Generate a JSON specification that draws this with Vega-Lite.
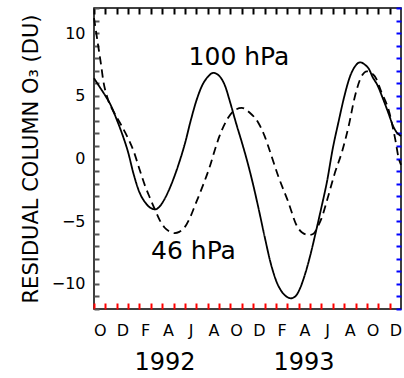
{
  "$schema": "https://vega.github.io/schema/vega-lite/v6.json",
  "width": 307,
  "height": 301,
  "autosize": {"type": "none"},
  "padding": {"left": 94, "top": 8, "right": 3, "bottom": 69},
  "background": "white",
  "config": {
    "view": {"stroke": "black", "strokeWidth": 1.5},
    "axis": {"domain": false, "grid": false, "labelFont": "DejaVu Sans", "titleFont": "DejaVu Sans", "labelColor": "black", "titleColor": "black"}
  },
  "datasets": {
    "curves": [
      {"series": "100 hPa", "t": -0.5, "v": 6.4},
      {"series": "100 hPa", "t": 0, "v": 5.7},
      {"series": "100 hPa", "t": 0.5, "v": 5.0},
      {"series": "100 hPa", "t": 1, "v": 4.2},
      {"series": "100 hPa", "t": 1.5, "v": 3.1},
      {"series": "100 hPa", "t": 2, "v": 1.9},
      {"series": "100 hPa", "t": 2.5, "v": 0.5},
      {"series": "100 hPa", "t": 3, "v": -1.3},
      {"series": "100 hPa", "t": 3.5, "v": -2.7},
      {"series": "100 hPa", "t": 4, "v": -3.5},
      {"series": "100 hPa", "t": 4.5, "v": -3.95},
      {"series": "100 hPa", "t": 4.9, "v": -4.05},
      {"series": "100 hPa", "t": 5.3, "v": -3.8},
      {"series": "100 hPa", "t": 5.6, "v": -3.4},
      {"series": "100 hPa", "t": 6, "v": -2.7},
      {"series": "100 hPa", "t": 6.5, "v": -1.6},
      {"series": "100 hPa", "t": 7, "v": -0.3},
      {"series": "100 hPa", "t": 7.5, "v": 1.2},
      {"series": "100 hPa", "t": 8, "v": 3.0},
      {"series": "100 hPa", "t": 8.5, "v": 4.6},
      {"series": "100 hPa", "t": 9, "v": 5.8},
      {"series": "100 hPa", "t": 9.5, "v": 6.5},
      {"series": "100 hPa", "t": 10, "v": 6.83},
      {"series": "100 hPa", "t": 10.5, "v": 6.6},
      {"series": "100 hPa", "t": 11, "v": 5.85},
      {"series": "100 hPa", "t": 11.5, "v": 4.4},
      {"series": "100 hPa", "t": 12, "v": 2.8},
      {"series": "100 hPa", "t": 12.5, "v": 1.3},
      {"series": "100 hPa", "t": 13, "v": -0.3},
      {"series": "100 hPa", "t": 13.5, "v": -2.1},
      {"series": "100 hPa", "t": 14, "v": -4.1},
      {"series": "100 hPa", "t": 14.5, "v": -6.2},
      {"series": "100 hPa", "t": 15, "v": -8.2},
      {"series": "100 hPa", "t": 15.5, "v": -9.7},
      {"series": "100 hPa", "t": 16, "v": -10.6},
      {"series": "100 hPa", "t": 16.5, "v": -11.05},
      {"series": "100 hPa", "t": 16.8, "v": -11.15},
      {"series": "100 hPa", "t": 17.2, "v": -11.0},
      {"series": "100 hPa", "t": 17.6, "v": -10.4},
      {"series": "100 hPa", "t": 18, "v": -9.4},
      {"series": "100 hPa", "t": 18.5, "v": -7.8},
      {"series": "100 hPa", "t": 19, "v": -5.9},
      {"series": "100 hPa", "t": 19.5, "v": -3.9},
      {"series": "100 hPa", "t": 20, "v": -1.8},
      {"series": "100 hPa", "t": 20.5, "v": 0.8},
      {"series": "100 hPa", "t": 21, "v": 2.9},
      {"series": "100 hPa", "t": 21.5, "v": 4.9},
      {"series": "100 hPa", "t": 22, "v": 6.5},
      {"series": "100 hPa", "t": 22.5, "v": 7.4},
      {"series": "100 hPa", "t": 22.9, "v": 7.67},
      {"series": "100 hPa", "t": 23.3, "v": 7.5},
      {"series": "100 hPa", "t": 23.7, "v": 7.1},
      {"series": "100 hPa", "t": 24, "v": 6.5},
      {"series": "100 hPa", "t": 24.4, "v": 5.9},
      {"series": "100 hPa", "t": 24.9, "v": 4.8},
      {"series": "100 hPa", "t": 25.4, "v": 3.6},
      {"series": "100 hPa", "t": 25.8, "v": 2.6},
      {"series": "100 hPa", "t": 26.2, "v": 2.0},
      {"series": "100 hPa", "t": 26.5, "v": 1.8},
      {"series": "46 hPa", "t": -0.5, "v": 11.2},
      {"series": "46 hPa", "t": -0.15, "v": 9.1},
      {"series": "46 hPa", "t": 0.14, "v": 7.35},
      {"series": "46 hPa", "t": 0.3, "v": 6.3},
      {"series": "46 hPa", "t": 0.73, "v": 4.7},
      {"series": "46 hPa", "t": 1.26, "v": 3.67},
      {"series": "46 hPa", "t": 1.9, "v": 2.65},
      {"series": "46 hPa", "t": 2.5, "v": 1.6},
      {"series": "46 hPa", "t": 3, "v": 0.55},
      {"series": "46 hPa", "t": 3.5, "v": -0.85},
      {"series": "46 hPa", "t": 4, "v": -2.2},
      {"series": "46 hPa", "t": 4.4, "v": -3.1},
      {"series": "46 hPa", "t": 4.85, "v": -4.05},
      {"series": "46 hPa", "t": 5.3, "v": -4.95},
      {"series": "46 hPa", "t": 5.7, "v": -5.5},
      {"series": "46 hPa", "t": 6.1, "v": -5.8},
      {"series": "46 hPa", "t": 6.6, "v": -5.95},
      {"series": "46 hPa", "t": 7.0, "v": -5.85},
      {"series": "46 hPa", "t": 7.5, "v": -5.45},
      {"series": "46 hPa", "t": 8.0, "v": -4.6},
      {"series": "46 hPa", "t": 8.4, "v": -3.7},
      {"series": "46 hPa", "t": 8.8, "v": -2.8},
      {"series": "46 hPa", "t": 9.1, "v": -2.1},
      {"series": "46 hPa", "t": 9.7, "v": -0.6},
      {"series": "46 hPa", "t": 10.1, "v": 0.6},
      {"series": "46 hPa", "t": 10.5, "v": 1.7},
      {"series": "46 hPa", "t": 11.2, "v": 3.1},
      {"series": "46 hPa", "t": 11.75, "v": 3.77},
      {"series": "46 hPa", "t": 12.5, "v": 4.04},
      {"series": "46 hPa", "t": 13.2, "v": 3.65},
      {"series": "46 hPa", "t": 13.95, "v": 2.85},
      {"series": "46 hPa", "t": 14.5, "v": 1.8},
      {"series": "46 hPa", "t": 15, "v": 0.5},
      {"series": "46 hPa", "t": 15.7, "v": -1.4},
      {"series": "46 hPa", "t": 16.6, "v": -3.5},
      {"series": "46 hPa", "t": 17.3, "v": -5.3},
      {"series": "46 hPa", "t": 17.8, "v": -5.9},
      {"series": "46 hPa", "t": 18.4, "v": -6.1},
      {"series": "46 hPa", "t": 18.8, "v": -6.0},
      {"series": "46 hPa", "t": 19.2, "v": -5.4},
      {"series": "46 hPa", "t": 19.5, "v": -4.8},
      {"series": "46 hPa", "t": 20.1, "v": -3.0},
      {"series": "46 hPa", "t": 20.7, "v": -1.1},
      {"series": "46 hPa", "t": 21.3, "v": 0.5},
      {"series": "46 hPa", "t": 21.9, "v": 2.6},
      {"series": "46 hPa", "t": 22.45, "v": 4.97},
      {"series": "46 hPa", "t": 23.0, "v": 6.5},
      {"series": "46 hPa", "t": 23.5, "v": 6.95},
      {"series": "46 hPa", "t": 24.2, "v": 6.55},
      {"series": "46 hPa", "t": 24.8, "v": 5.24},
      {"series": "46 hPa", "t": 25.4, "v": 3.9},
      {"series": "46 hPa", "t": 26.0, "v": 1.5},
      {"series": "46 hPa", "t": 26.3, "v": 0.0},
      {"series": "46 hPa", "t": 26.5, "v": -0.5}
    ],
    "labels": [
      {"label": "100 hPa", "t": 12.25, "v": 8.12},
      {"label": "46 hPa", "t": 8.25, "v": -7.41}
    ],
    "years": [
      {"label": "1992", "t": 5.74, "v": -16.27},
      {"label": "1993", "t": 17.97, "v": -16.27}
    ]
  },
  "layer": [
    {
      "data": {"name": "curves"},
      "mark": {"type": "line", "interpolate": "monotone", "color": "black", "strokeWidth": 1.8},
      "encoding": {
        "x": {"field": "t", "type": "quantitative",
          "scale": {"domain": [-0.5, 26.5], "nice": false, "zero": false},
          "axis": {"orient": "bottom", "values": [0, 1, 2, 3, 4, 5, 6, 7, 8, 9, 10, 11, 12, 13, 14, 15, 16, 17, 18, 19, 20, 21, 22, 23, 24, 25, 26],
            "labelExpr": "datum.value % 2 == 0 ? ['O','D','F','A','J','A'][(datum.value / 2) % 6] : ''",
            "ticks": true, "tickSize": 6, "offset": -6, "tickColor": "red", "tickWidth": 2,
            "tickOffset": -5.685, "labelOffset": 5.685,
            "labelPadding": 13, "labelFontSize": 16, "labelOverlap": false, "labelFlush": false, "title": null}},
        "y": {"field": "v", "type": "quantitative",
          "scale": {"domain": [-12, 12], "nice": false, "zero": false},
          "axis": {"orient": "left", "values": [-12, -11, -10, -9, -8, -7, -6, -5, -4, -3, -2, -1, 0, 1, 2, 3, 4, 5, 6, 7, 8, 9, 10, 11, 12],
            "labelExpr": "datum.value % 5 == 0 ? datum.label : ''",
            "ticks": true, "tickSize": 5, "offset": -5, "tickColor": "#555555", "tickWidth": 2,
            "labelPadding": 9, "labelFontSize": 16, "labelOverlap": false,
            "title": "RESIDUAL COLUMN O₃ (DU)", "titleFontSize": 21, "titleFontWeight": "normal", "titlePadding": 10}},
        "strokeDash": {"field": "series", "type": "nominal",
          "scale": {"domain": ["100 hPa", "46 hPa"], "range": [[1, 0], [8, 5]]}, "legend": null}
      }
    },
    {
      "data": {"name": "labels"},
      "mark": {"type": "text", "font": "DejaVu Sans", "fontSize": 25, "color": "black", "align": "center", "baseline": "middle"},
      "encoding": {
        "x": {"field": "t", "type": "quantitative",
          "scale": {"domain": [-0.5, 26.5], "nice": false, "zero": false},
          "axis": {"orient": "top", "values": [0, 1, 2, 3, 4, 5, 6, 7, 8, 9, 10, 11, 12, 13, 14, 15, 16, 17, 18, 19, 20, 21, 22, 23, 24, 25, 26],
            "labels": false, "ticks": true, "tickSize": 6, "offset": -6, "tickOffset": -5.685, "tickColor": "black", "tickWidth": 2, "title": null}},
        "y": {"field": "v", "type": "quantitative",
          "scale": {"domain": [-12, 12], "nice": false, "zero": false},
          "axis": {"orient": "right", "values": [-12, -11, -10, -9, -8, -7, -6, -5, -4, -3, -2, -1, 0, 1, 2, 3, 4, 5, 6, 7, 8, 9, 10, 11, 12],
            "labels": false, "ticks": true, "tickSize": 5, "offset": -5, "tickColor": "blue", "tickWidth": 2, "title": null}},
        "text": {"field": "label", "type": "nominal"}
      }
    },
    {
      "data": {"name": "years"},
      "mark": {"type": "text", "font": "DejaVu Sans", "fontSize": 24, "color": "black", "align": "center", "baseline": "middle"},
      "encoding": {
        "x": {"field": "t", "type": "quantitative", "scale": {"domain": [-0.5, 26.5], "nice": false, "zero": false}, "axis": null},
        "y": {"field": "v", "type": "quantitative", "scale": {"domain": [-12, 12], "nice": false, "zero": false}, "axis": null},
        "text": {"field": "label", "type": "nominal"}
      }
    }
  ],
  "resolve": {"axis": {"x": "independent", "y": "independent"}}
}
